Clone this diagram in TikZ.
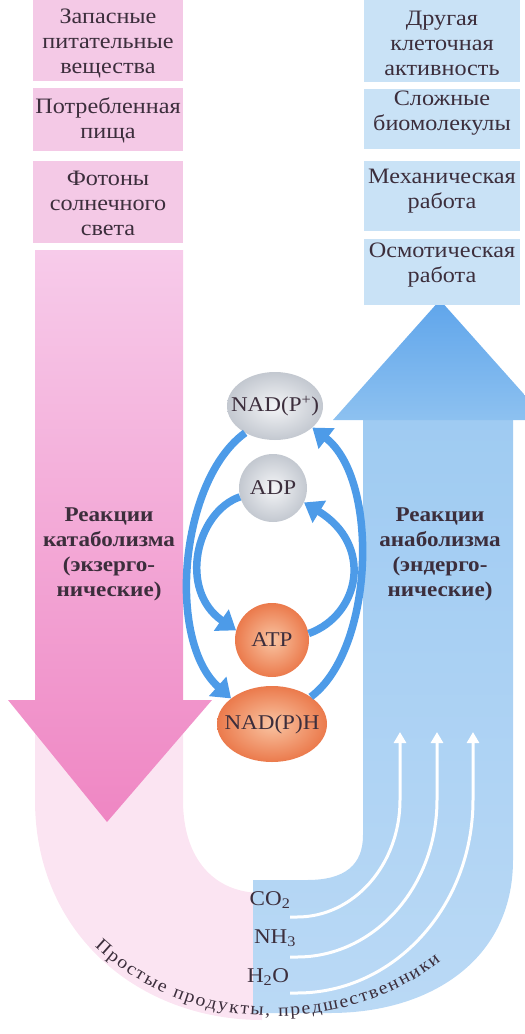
\documentclass[tikz,border=0pt]{standalone}
\usepackage{fontspec}
\setmainfont{Liberation Serif}[FakeStretch=1.1]
\usetikzlibrary{arrows.meta,decorations.text,shapes.geometric}
\definecolor{txt}{HTML}{3C2E3C}
\definecolor{pinkbox}{HTML}{F4C9E6}
\definecolor{bluebox}{HTML}{C9E2F6}
\definecolor{pinktop}{HTML}{F7CBEA}
\definecolor{pinkmid}{HTML}{F4AEDB}
\definecolor{pinkbot}{HTML}{EF86C3}
\definecolor{pinkfade}{HTML}{F2A6D3}
\definecolor{bluehtop}{HTML}{5FA5EB}
\definecolor{bluehbot}{HTML}{8DC1F0}
\definecolor{blueshtop}{HTML}{9FCBF2}
\definecolor{blueshbot}{HTML}{BAD9F5}
\definecolor{cyc}{HTML}{4D9BE8}
\definecolor{grayin}{HTML}{F4F5F7}
\definecolor{grayout}{HTML}{C3C8D0}
\definecolor{orin}{HTML}{F9C4A2}
\definecolor{orout}{HTML}{EB7A4C}
\begin{document}
\begin{tikzpicture}[x=1pt,y=1pt,
  lbl/.style={text=txt, font=\fontsize{22}{25}\selectfont, align=center, inner sep=0pt},
  blbl/.style={text=txt, font=\fontsize{21}{25}\selectfont\bfseries, align=center, inner sep=0pt},
  mollbl/.style={text=txt, font=\fontsize{21}{25}\selectfont, inner sep=0pt},
  graymol/.style={ellipse, inner sep=0pt, shading=radial, inner color=grayin, outer color=grayout},
  ormol/.style={ellipse, inner sep=0pt, shading=radial, inner color=orin, outer color=orout},
  cycarrow/.style={draw=cyc, line width=7.5pt, -{Triangle[length=18pt,width=25pt]}},
  whitearrow/.style={draw=white, line width=3pt, -{Triangle[length=11pt,width=12pt]}}
]
\useasboundingbox (0,0) rectangle (525,-1034);
\clip (0,0) rectangle (525,-1034);

% faded pink lower band
\fill[pinkfade, opacity=0.3] (35,-700) -- (35,-800) .. controls (35,-935) and (140,-1020) .. (262,-1020)
  -- (262,-893) .. controls (215,-893) and (183,-860) .. (183,-800) -- (183,-700) -- cycle;

% blue shaft (U)
\shade[top color=blueshtop, bottom color=blueshbot] (363,-419) -- (513,-419) -- (513,-860)
  .. controls (513,-960) and (430,-1013) .. (330,-1013) -- (253,-1013) -- (253,-880) -- (307,-880)
  .. controls (345,-880) and (363,-865) .. (363,-835) -- cycle;
% blue head
\shade[top color=bluehtop, bottom color=bluehbot] (333,-420) -- (440,-300) -- (547,-420) -- cycle;

% pink arrow
\shade[top color=pinktop, middle color=pinkmid, bottom color=pinkbot]
  (35,-250) -- (183,-250) -- (183,-700) -- (212,-700) -- (107,-822) -- (8,-700) -- (35,-700) -- cycle;

% top boxes
\fill[pinkbox] (33,0) rectangle (183,-81);
\fill[pinkbox] (33,-88) rectangle (183,-151);
\fill[pinkbox] (33,-161) rectangle (183,-243);
\fill[bluebox] (364,0) rectangle (520,-82);
\fill[bluebox] (364,-89) rectangle (520,-149);
\fill[bluebox] (364,-161) rectangle (520,-231);
\fill[bluebox] (364,-239) rectangle (520,-305);

\node[lbl] (p1) at (108,-43) {Запасные\\питательные\\вещества};
\node[lbl] (p2) at (108,-120) {Потребленная\\пища};
\node[lbl] (p3) at (108,-203) {Фотоны\\солнечного\\света};
\node[lbl] (b1) at (442,-43) {Другая\\клеточная\\активность};
\node[lbl] (b2) at (442,-113) {Сложные\\биомолекулы};
\node[lbl] (b3) at (442,-191) {Механическая\\работа};
\node[lbl] (b4) at (442,-265) {Осмотическая\\работа};

\node[blbl] (cat) at (109,-554) {Реакции\\катаболизма\\(экзерго-\\нические)};
\node[blbl] (ana) at (440,-554) {Реакции\\анаболизма\\(эндерго-\\нические)};

% white arrows in blue band
\coordinate (w1s) at (290,-917); \coordinate (w1e) at (400,-732);
\coordinate (w2s) at (290,-957); \coordinate (w2e) at (437,-732);
\coordinate (w3s) at (290,-993); \coordinate (w3e) at (473,-732);
\draw[whitearrow] (w1s) -- ++(7,0) arc[start angle=270, end angle=360, x radius=103, y radius=117] -- (w1e);
\draw[whitearrow] (w2s) -- ++(7,0) arc[start angle=270, end angle=360, x radius=140, y radius=157] -- (w2e);
\draw[whitearrow] (w3s) -- ++(7,0) arc[start angle=270, end angle=360, x radius=176, y radius=193] -- (w3e);

% molecules
\node[graymol, minimum width=96, minimum height=68] (np) at (275,-406) {};
\node[graymol, minimum width=68, minimum height=68] (adp) at (273,-488) {};
\node[ormol, minimum width=74, minimum height=74] (atp) at (272,-640) {};
\node[ormol, minimum width=110, minimum height=76] (nph) at (272,-724) {};
\node[mollbl] (npt) at (np.center) {NAD(P\textsuperscript{+})};
\node[mollbl] (adpt) at (adp.center) {ADP};
\node[mollbl] (atpt) at (atp.center) {ATP};
\node[mollbl] (npht) at (nph.center) {NAD(P)H};

% cycle arrows
\draw[cycarrow] (np.222) .. controls (180,-480) and (166,-640) .. (nph.148);
\draw[cycarrow] (adp.195) .. controls (196,-512) and (178,-590) .. (atp.165);
\draw[cycarrow] (atp.10) .. controls (360,-615) and (374,-545) .. (adp.335);
\draw[cycarrow] (nph.35) .. controls (374,-650) and (380,-480) .. (np.330);

% small molecules
\node[mollbl] (co2) at (270,-900) {CO\textsubscript{2}};
\node[mollbl] (nh3) at (275,-938) {NH\textsubscript{3}};
\node[mollbl] (h2o) at (268,-977) {H\textsubscript{2}O};

% arc text
\path[decorate, decoration={text along path, text align=fit to path,
  text={|\fontsize{18}{22}\selectfont\color{txt}|Простые продукты, предшественники}}]
  ([shift={(222.8:247pt and 216pt)}]276,-800) arc[start angle=222.8, end angle=311.8, x radius=247pt, y radius=216pt];
\end{tikzpicture}
\end{document}
